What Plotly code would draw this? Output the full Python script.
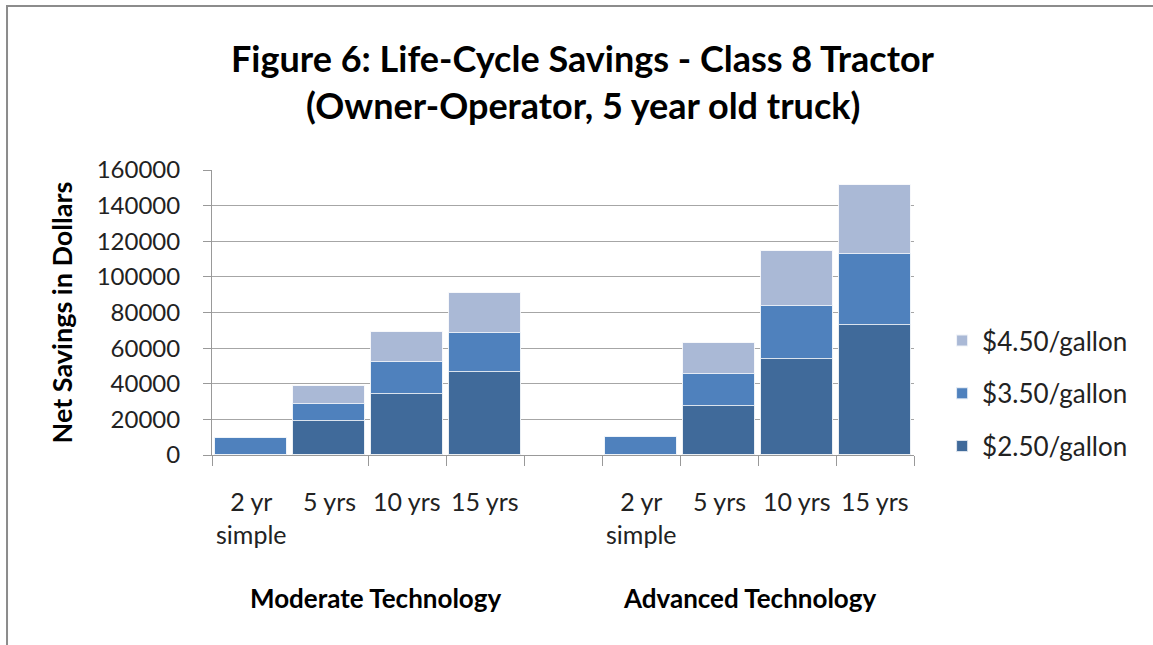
import plotly.graph_objects as go

# Categories (9 slots: 4 moderate, 1 blank gap, 4 advanced)
cat_labels = ["2 yr<br>simple", "5 yrs", "10 yrs", "15 yrs", "", "2 yr<br>simple", "5 yrs", "10 yrs", "15 yrs"]
cat_pos = [0, 1, 2, 3, 4, 5, 6, 7, 8]
groups = ["Moderate Technology", "Advanced Technology"]
group_centers = [1.59, 6.39]

# Net savings (overlapping bars, each value is the total for that fuel price)
s_450 = [None, 38900, 68900, 90800, None, None, 63000, 114400, 151600]
s_350 = [9300, 28600, 52000, 68300, None, 9900, 45600, 83600, 112700]
s_250 = [None, 19100, 34200, 46400, None, None, 27700, 53900, 73200]

series_names = ["$4.50/gallon", "$3.50/gallon", "$2.50/gallon"]
series_vals = [s_450, s_350, s_250]
series_colors = ["#AAB9D6", "#4F81BD", "#406A9A"]

y_ticks = [0, 20000, 40000, 60000, 80000, 100000, 120000, 140000, 160000]
x_boundaries = [-0.5, 1.5, 2.5, 3.5, 4.5, 5.5, 6.5, 7.5, 8.5]

FONT = "Lato"
fig = go.Figure()
for i, (name, vals, col) in enumerate(zip(series_names, series_vals, series_colors)):
    fig.add_trace(go.Bar(
        x=cat_pos, y=vals, name=name, width=0.92,
        marker=dict(color=col, line=dict(color="rgba(255,255,255,0.8)", width=1)),
        legendgroup=name,
    ))

annotations = []
annotations.append(dict(text="<b>Figure 6: Life-Cycle Savings - Class 8 Tractor</b>", x=0.5285, xref="paper",
                        y=1.393, yref="paper", xanchor="center", yanchor="middle", showarrow=False,
                        font=dict(family=FONT, size=36, color="#000")))
annotations.append(dict(text="<b>(Owner-Operator, 5 year old truck)</b>", x=0.5285, xref="paper",
                        y=1.228, yref="paper", xanchor="center", yanchor="middle", showarrow=False,
                        font=dict(family=FONT, size=36, color="#000")))
for p, lab in zip(cat_pos, cat_labels):
    if lab:
        annotations.append(dict(text=lab, x=p, xref="x", y=-0.10, yref="paper", xanchor="center",
                                yanchor="top", showarrow=False, align="center",
                                font=dict(family=FONT, size=25, color="#222")))
for gx, g in zip(group_centers, groups):
    annotations.append(dict(text="<b>" + g + "</b>", x=gx, xref="x", y=-0.502, yref="paper",
                            xanchor="center", yanchor="middle", showarrow=False,
                            font=dict(family=FONT, size=26, color="#000")))
annotations.append(dict(text="<b>Net Savings in Dollars</b>", x=-0.2137, xref="paper", y=0.5, yref="paper",
                        textangle=-90, xanchor="center", yanchor="middle", showarrow=False,
                        font=dict(family=FONT, size=27, color="#000")))

fig.update_layout(
    width=1153, height=645,
    margin=dict(l=212, r=239, t=170, b=190, autoexpand=False),
    paper_bgcolor="white", plot_bgcolor="white",
    barmode="overlay", bargap=0,
    showlegend=True,
    legend=dict(x=1.04, xanchor="left", y=0.484, yanchor="top", traceorder="grouped",
                tracegroupgap=16, font=dict(family=FONT, size=26, color="#222"),
                itemsizing="constant"),
    annotations=annotations,
    shapes=[dict(type="rect", xref="paper", yref="paper", x0=-0.292, x1=1.35, y0=-0.719, y1=1.5754,
                 line=dict(color="#8c8c8c", width=2), fillcolor="rgba(0,0,0,0)", layer="below")],
)
fig.update_xaxes(range=[-0.5, 8.5], tickmode="array", tickvals=x_boundaries, showticklabels=False,
                 ticks="outside", ticklen=10, tickcolor="#999", showline=True, linecolor="#999",
                 linewidth=1, showgrid=False, zeroline=False, fixedrange=True)
fig.update_yaxes(range=[0, 160000], tickmode="array", tickvals=y_ticks, ticktext=[str(v) for v in y_ticks],
                 ticks="outside", ticklen=8, tickcolor="#999", showline=True, linecolor="#999", linewidth=1,
                 showgrid=True, gridcolor="#a6a6a6", gridwidth=1, zeroline=False,
                 tickfont=dict(family=FONT, size=24, color="#222"), ticklabelstandoff=18)

fig.write_html("out.html", config={"displayModeBar": False},
               post_script="document.body.style.margin='0';document.body.style.padding='0';"
                           "document.body.style.overflow='hidden';")
